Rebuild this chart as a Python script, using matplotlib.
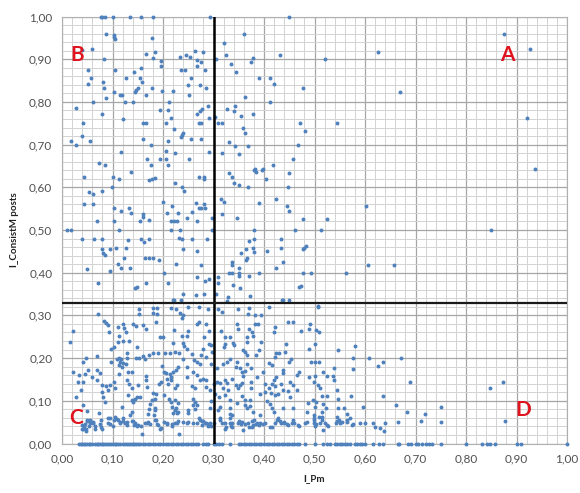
import matplotlib
matplotlib.use('Agg')
import matplotlib.pyplot as plt
import numpy as np

plt.rcParams['font.family'] = ['Lato', 'DejaVu Sans']

# points, (I_Pm, I_ConsistM posts)
quadrant_b = np.array([
    (.077,1),(.08,1),(.085,1),(.10,1),(.135,1),(.157,1),(.18,1),(.293,1),
    (.088,.958),(.102,.956),(.103,.952),(.104,.947),(.179,.949),
    (.04,.922),(.06,.925),(.166,.913),(.185,.916),(.181,.903),(.197,.896),(.197,.885),
    (.083,.90),(.051,.875),(.104,.875),(.057,.857),(.051,.842),(.081,.846),(.083,.832),
    (.087,.809),(.061,.80),(.102,.823),(.115,.817),(.118,.817),(.125,.80),(.127,.856),
    (.143,.87),(.156,.879),(.154,.856),(.158,.846),(.15,.832),(.147,.827),(.145,.823),
    (.141,.80),(.166,.817),(.179,.832),(.199,.826),(.22,.826),(.212,.80),(.194,.782),
    (.209,.782),(.028,.785),(.079,.772),(.12,.76),(.042,.75),(.161,.75),(.166,.75),
    (.205,.75),(.216,.762),(.222,.737),(.04,.719),(.017,.708),(.028,.70),(.055,.709),
    (.16,.714),(.21,.708),(.176,.70),(.24,.728),(.238,.723),(.236,.718),(.255,.714),
    (.275,.714),(.116,.683),(.205,.686),(.224,.68),(.205,.666),(.194,.666),(.168,.666),
    (.176,.652),(.209,.652),(.251,.666),(.291,.683),(.073,.656),(.086,.653),
    (.234,.905),(.246,.909),(.253,.905),(.263,.919),(.268,.899),(.275,.894),(.28,.916),
    (.268,.884),(.284,.875),(.236,.875),(.244,.875),(.255,.856),(.25,.839),(.252,.817),
    (.274,.839),(.286,.833),(.29,.79),(.277,.784),(.273,.778),(.267,.772),(.271,.75),
    (.275,.75),(.291,.762),
    (.044,.625),(.10,.625),(.113,.62),(.136,.637),(.173,.617),(.179,.62),(.184,.621),
    (.224,.609),(.238,.60),(.242,.591),(.271,.625),(.281,.623),(.281,.62),(.099,.60),
    (.054,.59),(.062,.584),(.079,.591),(.044,.56),(.061,.56),(.103,.551),(.116,.545),
    (.133,.551),(.136,.539),(.069,.52),(.102,.522),(.112,.50),(.009,.50),(.017,.50),
    (.04,.48),(.063,.48),(.079,.48),(.079,.456),(.082,.445),(.085,.441),(.096,.456),
    (.106,.459),(.131,.476),(.127,.459),(.122,.435),(.11,.421),(.116,.41),(.135,.41),
    (.096,.405),(.049,.408),(.071,.376),(.156,.48),(.163,.471),(.173,.48),(.155,.52),
    (.161,.53),(.161,.537),(.172,.524),(.165,.435),(.172,.434),(.18,.434),(.193,.429),
    (.166,.376),(.149,.367),(.145,.364),(.201,.40),(.209,.376),(.226,.421),(.2,.566),
    (.217,.557),(.207,.539),(.229,.539),(.215,.522),(.222,.522),(.227,.52),(.216,.50),
    (.234,.50),(.232,.481),(.237,.479),(.24,.456),(.266,.563),(.257,.543),(.272,.551),
    (.276,.552),(.282,.56),(.283,.551),(.248,.527),(.268,.52),(.257,.479),(.288,.479),
    (.268,.451),(.275,.417),(.267,.389),(.284,.381),(.292,.385),(.298,.527),(.298,.50),
    (.24,.351),(.265,.347),(.282,.351),(.219,.336),(.222,.336),(.236,.335),
])

quadrant_a = np.array([
    (.45,1),(.321,.938),(.36,.958),(.304,.90),(.324,.909),(.334,.889),(.344,.87),
    (.374,.894),(.379,.903),(.391,.856),(.412,.856),(.42,.842),(.432,.909),(.411,.80),
    (.362,.812),(.343,.79),(.326,.784),(.341,.778),(.354,.767),(.378,.772),(.359,.739),
    (.362,.727),(.33,.707),(.343,.696),(.368,.696),(.35,.677),(.418,.652),(.382,.643),
    (.398,.643),(.303,.764),(.308,.75),(.316,.75),(.317,.68),
    (.314,.572),(.321,.566),(.316,.537),(.347,.527),(.331,.633),(.336,.625),(.34,.609),
    (.35,.605),(.368,.60),(.381,.641),(.385,.637),(.397,.641),(.404,.62),(.391,.563),
    (.424,.572),(.446,.557),(.449,.545),(.45,.633),(.448,.60),(.381,.50),(.381,.479),
    (.37,.474),(.434,.479),(.433,.459),(.437,.424),(.424,.412),(.405,.451),(.379,.459),
    (.381,.449),(.364,.456),(.355,.445),(.367,.435),(.364,.429),(.336,.424),(.336,.418),
    (.331,.40),(.337,.40),(.35,.41),(.35,.40),(.35,.392),(.37,.392),(.391,.40),(.309,.389),
    (.309,.376),(.339,.371),(.353,.364),(.372,.346),(.305,.351),(.329,.342),(.327,.334),
    (.435,.335),(.438,.335),(.45,.335),(.469,.367),
    (.876,.958),(.926,.923),(.625,.917),(.521,.90),(.478,.833),(.67,.823),(.92,.762),
    (.471,.75),(.544,.75),(.482,.731),(.468,.70),(.458,.666),(.936,.643),(.601,.556),
    (.478,.526),(.524,.526),(.461,.50),(.513,.50),(.85,.50),(.484,.463),(.48,.457),
    (.477,.456),(.606,.417),(.658,.417),(.478,.40),(.493,.40),(.563,.40),(.473,.369),
])

quadrant_c = np.array([
    (.016,.238),(.022,.264),(.072,.304),(.083,.287),(.087,.283),(.092,.277),(.094,.262),
    (.111,.273),(.121,.279),(.123,.271),(.113,.251),(.127,.26),(.11,.238),(.12,.24),
    (.133,.239),(.148,.226),(.141,.279),(.146,.275),(.16,.278),(.166,.269),(.152,.316),
    (.152,.304),(.18,.318),(.189,.318),(.18,.306),(.189,.304),(.187,.285),(.194,.25),
    (.2,.25),(.216,.318),(.226,.316),(.234,.306),(.239,.30),(.237,.293),(.249,.32),
    (.272,.32),(.29,.316),(.268,.281),(.272,.285),(.286,.281),(.222,.265),(.237,.251),
    (.247,.251),(.25,.264),(.281,.25),(.292,.263),(.22,.236),(.239,.236),(.242,.228),
    (.247,.222),(.28,.222),(.292,.234),(.296,.23),(.298,.215),(.069,.205),(.098,.222),
    (.102,.226),(.128,.212),(.112,.201),(.116,.199),(.108,.197),(.097,.191),(.114,.191),
    (.12,.189),(.112,.183),(.118,.18),(.127,.187),(.129,.201),(.147,.201),(.153,.201),
    (.161,.205),(.164,.197),(.173,.207),(.181,.211),(.19,.211),(.204,.211),(.213,.212),
    (.224,.215),(.232,.211),(.24,.199),(.257,.209),(.262,.195),(.268,.191),(.273,.187),
    (.275,.207),(.286,.203),(.296,.187),(.042,.191),(.048,.201),(.052,.172),(.021,.168),
    (.034,.16),(.046,.162),(.059,.155),(.069,.173),(.075,.165),(.07,.148),(.032,.143),
    (.037,.126),(.042,.144),(.079,.137),(.088,.134),(.092,.126),(.096,.137),(.103,.144),
    (.079,.121),(.105,.129),(.112,.162),(.131,.168),(.138,.168),(.129,.148),(.133,.139),
    (.138,.131),(.151,.137),(.166,.158),(.166,.148),(.169,.133),(.181,.119),(.187,.115),
    (.193,.139),(.197,.144),(.199,.181),(.201,.168),(.206,.165),(.213,.162),(.207,.152),
    (.215,.155),(.22,.168),(.226,.173),(.23,.18),(.215,.148),(.21,.14),(.227,.137),
    (.224,.129),(.247,.18),(.247,.156),(.259,.168),(.267,.16),(.273,.148),(.257,.134),
    (.263,.131),(.28,.15),(.286,.148),(.285,.133),(.293,.125),(.3,.14),(.028,.108),
    (.042,.09),(.049,.077),(.082,.108),(.085,.098),(.074,.072),(.131,.113),(.138,.101),
    (.145,.105),(.149,.109),(.154,.108),(.141,.098),(.178,.101),(.174,.092),(.184,.105),
    (.173,.08),(.184,.082),(.201,.113),(.211,.105),(.216,.098),(.224,.101),(.23,.094),
    (.217,.086),(.226,.082),(.219,.072),(.227,.072),(.25,.078),(.259,.105),(.263,.098),
    (.267,.09),(.263,.08),(.293,.082),(.296,.1),
    (.039,.043),(.041,.035),(.048,.03),(.049,.055),(.055,.056),(.062,.051),(.046,.045),
    (.054,.041),(.065,.041),(.065,.033),(.075,.045),(.079,.035),(.092,.059),(.095,.045),
    (.1,.041),(.105,.062),(.11,.056),(.115,.051),(.121,.059),(.125,.047),(.129,.043),
    (.135,.066),(.14,.053),(.145,.047),(.149,.041),(.156,.041),(.158,.023),(.168,.048),
    (.174,.045),(.182,.066),(.187,.055),(.189,.045),(.194,.033),(.201,.051),(.207,.045),
    (.217,.045),(.224,.047),(.232,.023),(.23,.053),(.24,.051),(.25,.051),(.259,.048),
    (.267,.047),(.272,.059),(.277,.053),(.283,.047),(.29,.041),(.296,.041),(.301,.048),
])

quadrant_d = np.array([
    (.308,.316),(.316,.308),(.349,.316),(.371,.318),(.369,.304),(.382,.301),(.395,.30),
    (.409,.32),(.506,.32),(.507,.321),(.347,.279),(.349,.269),(.382,.279),(.389,.279),
    (.371,.267),(.376,.26),(.367,.25),(.378,.251),(.448,.285),(.458,.285),(.422,.273),
    (.419,.26),(.473,.264),(.492,.279),(.49,.269),(.503,.265),(.509,.262),(.314,.264),
    (.323,.25),(.333,.25),(.323,.234),(.32,.226),(.338,.236),(.34,.23),(.366,.238),
    (.394,.238),(.359,.22),(.362,.215),(.367,.207),(.391,.219),(.385,.207),(.444,.232),
    (.442,.215),(.424,.211),(.429,.212),(.422,.203),(.49,.222),(.501,.232),(.547,.219),
    (.58,.228),(.576,.201),(.577,.174),(.608,.201),(.625,.182),(.636,.191),(.453,.199),
    (.45,.191),(.494,.191),(.501,.191),(.508,.191),(.539,.177),(.517,.168),(.524,.158),
    (.536,.158),(.539,.148),(.544,.125),(.547,.105),(.572,.111),(.636,.111),(.318,.187),
    (.326,.191),(.333,.199),(.306,.176),(.347,.191),(.344,.18),(.352,.176),(.356,.168),
    (.362,.17),(.375,.176),(.359,.158),(.366,.187),(.409,.189),(.415,.183),(.399,.168),
    (.438,.173),(.437,.165),(.47,.168),(.466,.16),(.49,.155),(.5,.158),(.306,.144),
    (.313,.141),(.323,.148),(.326,.142),(.336,.15),(.319,.131),(.329,.126),(.344,.137),
    (.352,.137),(.349,.129),(.356,.141),(.374,.144),(.386,.155),(.375,.131),(.402,.139),
    (.419,.148),(.424,.155),(.415,.14),(.41,.129),(.422,.134),(.433,.139),(.452,.144),
    (.458,.137),(.466,.126),(.448,.123),(.437,.125),(.392,.117),(.402,.121),(.413,.119),
    (.422,.113),(.428,.117),(.499,.144),(.506,.137),(.51,.131),(.514,.111),(.524,.111),
    (.311,.109),(.323,.113),(.333,.101),(.303,.117),(.356,.111),(.362,.101),(.372,.101),
    (.452,.108),(.405,.1),(.412,.092),(.488,.095),(.498,.101),(.502,.098),(.517,.092),
    (.523,.084),(.313,.086),(.309,.078),(.333,.084),(.333,.07),(.347,.094),(.362,.09),
    (.366,.082),(.373,.087),(.379,.074),(.392,.066),(.415,.082),(.419,.074),(.438,.082),
    (.457,.084),(.486,.074),(.501,.086),(.514,.074),(.547,.084),(.559,.084),(.564,.07),
    (.597,.086),(.545,.062),(.57,.059),(.514,.062),
    (.312,.055),(.316,.048),(.323,.035),(.332,.059),(.333,.047),(.334,.041),(.349,.048),
    (.356,.051),(.358,.031),(.363,.045),(.371,.039),(.376,.053),(.379,.043),(.386,.048),
    (.391,.043),(.399,.045),(.412,.039),(.422,.047),(.428,.059),(.433,.048),(.44,.051),
    (.448,.043),(.455,.047),(.458,.056),(.47,.041),(.481,.048),(.499,.059),(.499,.048),
    (.501,.041),(.509,.062),(.51,.048),(.517,.031),(.524,.043),(.543,.048),(.548,.056),
    (.554,.051),(.565,.051),(.577,.045),(.591,.048),(.6,.048),(.615,.048),(.62,.039),
    (.63,.037),(.638,.029),(.64,.048),
    (.671,.2),(.69,.143),(.661,.091),(.684,.074),(.718,.069),(.75,.086),(.71,.052),
    (.666,.051),(.75,.051),(.848,.13),(.873,.143),(.878,.052),
])

low_band = np.array([
    (.04,.035),(.043,.041),(.05,.052),(.055,.047),(.062,.047),(.048,.035),(.077,.055),
    (.077,.039),(.092,.047),(.095,.059),(.102,.055),(.108,.057),(.114,.047),(.121,.053),
    (.128,.05),(.138,.052),(.143,.043),(.151,.043),(.164,.047),(.171,.051),(.184,.055),
    (.191,.043),(.197,.037),(.207,.049),(.217,.041),(.227,.047),(.247,.047),(.273,.055),
    (.28,.052),(.286,.049),(.29,.045),(.294,.047),(.277,.043),
    (.118,.086),(.138,.074),(.171,.07),(.184,.078),(.224,.078),(.23,.074),(.26,.09),(.25,.072),
    (.313,.059),(.323,.047),(.324,.039),(.336,.066),(.336,.047),(.336,.039),(.351,.052),
    (.354,.045),(.369,.047),(.376,.039),(.381,.055),(.385,.045),(.392,.047),(.402,.047),
    (.415,.039),(.425,.055),(.431,.052),(.44,.047),(.446,.045),(.46,.049),(.468,.043),
    (.485,.051),(.499,.066),(.499,.055),(.503,.045),(.514,.055),(.521,.047),(.526,.04),
    (.545,.052),(.551,.047),(.564,.055),(.574,.044),
])

# the row of points lying on the x axis
zero_row_x = [
    .034,.037,.04,.043,.046,.05,.053,.056,.06,.066,.069,.072,.075,.079,.082,.085,.09,.093,
    .097,.1,.104,.107,.111,.115,.12,.125,.128,.132,.136,.14,.143,.147,.15,.155,.16,.165,
    .17,.175,.18,.185,.19,.195,.2,.205,.21,.215,.22,.225,.23,.235,.24,.245,.25,.255,.26,
    .265,.27,.28,.285,.29,.3,.305,.31,.317,.333,.35,.355,.36,.365,.37,.375,.38,.385,.39,
    .395,.4,.405,.41,.415,.42,.425,.43,.435,.44,.445,.45,.455,.46,.465,.47,.481,.5,.517,
    .525,.53,.54,.545,.55,.555,.56,.565,.57,.58,.585,.59,.595,.6,.615,.627,.636,.666,.668,
    .686,.692,.70,.705,.713,.72,.727,.733,.75,.80,.832,.842,.848,.857,.90,.908,1.0,
]

x_ticks = [i / 10 for i in range(11)]
x_labels = ['0,00', '0,10', '0,20', '0,30', '0,40', '0,50', '0,60', '0,70', '0,80', '0,90', '1,00']
minor_ticks = [i / 50 for i in range(51)]
x_split = 0.30
y_split = 0.33
quadrant_names = ['A', 'B', 'C', 'D']
name_x = [.881, .03, .028, .913]
name_y = [.91, .91, .06, .078]

fig = plt.figure(figsize=(5.8, 4.93), dpi=100)
ax = fig.add_axes([62/580, 1 - 443.5/493, 505/580, 427/493])

pts = np.vstack([quadrant_a, quadrant_b, quadrant_c, quadrant_d, low_band])
ax.scatter(pts[:, 0], pts[:, 1], s=8, color='#4f81bd', linewidths=0, zorder=3, clip_on=False)
ax.scatter(zero_row_x, np.zeros(len(zero_row_x)), s=8, color='#4f81bd', linewidths=0, zorder=3, clip_on=False)

ax.axvline(x_split, color='black', lw=1.8, zorder=4)
ax.axhline(y_split, color='#1a1a1a', lw=1.6, zorder=4)

ax.set_xlim(0, 1)
ax.set_ylim(0, 1)
ax.set_xticks(x_ticks)
ax.set_xticklabels(x_labels)
ax.set_yticks(x_ticks)
ax.set_yticklabels(x_labels)
ax.set_xticks(minor_ticks, minor=True)
ax.set_yticks(minor_ticks, minor=True)
ax.grid(which='minor', color='#d2d2d2', lw=0.7, zorder=0)
ax.grid(which='major', color='#a6a6a6', lw=0.9, zorder=1)
ax.set_axisbelow(True)
ax.tick_params(which='both', length=0)
ax.tick_params(which='major', labelsize=8.5, labelcolor='#505050', pad=7)
for s in ax.spines.values():
    s.set_color('#b0b0b0')

ax.set_xlabel('I_Pm', fontsize=7, fontweight='bold', color='#202020', labelpad=7)
ax.set_ylabel('I_ConsistM posts', fontsize=7, fontweight='bold', color='#202020', labelpad=7)

for name, nx, ny in zip(quadrant_names, name_x, name_y):
    ax.text(nx, ny, name, color='#e0141e', fontsize=15, fontweight='bold', ha='center', va='center', zorder=5)

fig.savefig('out.png', dpi=100)
